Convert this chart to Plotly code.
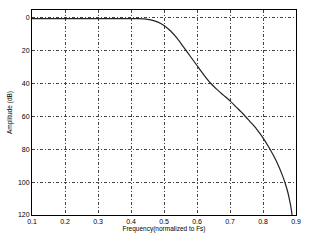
import plotly.graph_objects as go

freq = [0.10, 0.20, 0.30, 0.40, 0.42, 0.44, 0.46, 0.48, 0.50, 0.52, 0.54, 0.56,
        0.58, 0.60, 0.62, 0.64, 0.66, 0.68, 0.70, 0.72, 0.74, 0.76, 0.78, 0.80,
        0.82, 0.84, 0.86, 0.87, 0.875, 0.88, 0.884, 0.888]
amp_db = [0.4, 0.4, 0.4, 0.4, 0.45, 0.6, 1.2, 2.4, 4.6, 8.0, 12.5, 18.0,
          23.5, 29.0, 34.5, 39.5, 43.5, 47.0, 50.5, 54.5, 58.5, 63.0, 67.5, 73.0,
          79.5, 87.0, 96.5, 102.5, 106.0, 110.5, 114.5, 120.0]

x_ticks = [0.1, 0.2, 0.3, 0.4, 0.5, 0.6, 0.7, 0.8, 0.9]
y_ticks = [0, 20, 40, 60, 80, 100, 120]

fig = go.Figure()
fig.add_trace(go.Scatter(x=freq, y=amp_db, mode="lines",
                         line=dict(color="#222222", width=1.2, shape="spline", smoothing=0.6),
                         showlegend=False, hoverinfo="skip"))

axis_common = dict(showline=True, linecolor="black", linewidth=1, mirror=True,
                   showgrid=True, gridcolor="#444444", gridwidth=1, griddash="3px,2px,1px,2px",
                   zeroline=False, ticks="", tickfont=dict(size=7, color="black"))

fig.update_layout(
    width=316, height=241,
    margin=dict(l=30, r=20, t=9, b=24),
    paper_bgcolor="white", plot_bgcolor="white",
    font=dict(family="Liberation Sans, Arial, sans-serif", size=7, color="black"),
    xaxis=dict(range=[0.1, 0.9], tickvals=x_ticks, ticktext=[f"{v:g}" for v in x_ticks],
               title=dict(text="Frequency(normalized to Fs)", font=dict(size=6.5), standoff=2),
               **axis_common),
    yaxis=dict(range=[120, -4.8], tickvals=y_ticks, ticktext=[str(v) for v in y_ticks],
               title=dict(text="Amplitude (dB)", font=dict(size=6.5), standoff=4),
               **axis_common),
)

fig.write_html("out.html")
